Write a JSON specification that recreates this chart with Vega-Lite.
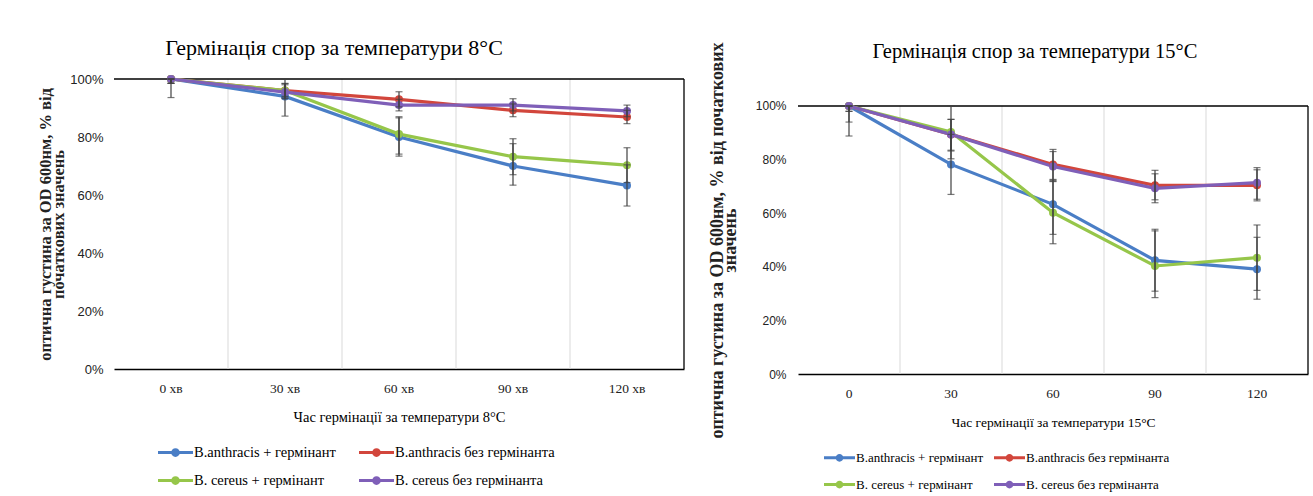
{
  "$schema": "https://vega.github.io/schema/vega-lite/v6.json",
  "padding": {"left": 37, "top": 36, "right": 2, "bottom": 0},
  "background": "white",
  "spacing": 23,
  "config": {
    "view": {"stroke": null},
    "font": "Liberation Serif",
    "axisX": {"grid": false, "ticks": false, "domainColor": "#000", "domainWidth": 1.3, "labelAngle": 0},
    "axisY": {"grid": false, "ticks": false, "domain": false}
  },
  "resolve": {"legend": {"color": "independent"}},
  "datasets": {
    "d8": [
      {"t": "0 хв", "s": "B.anthracis + гермінант", "v": 100, "lo": 93.6, "hi": 100},
      {"t": "30 хв", "s": "B.anthracis + гермінант", "v": 94, "lo": 87.2, "hi": 100},
      {"t": "60 хв", "s": "B.anthracis + гермінант", "v": 80, "lo": 73.4, "hi": 86.6},
      {"t": "90 хв", "s": "B.anthracis + гермінант", "v": 70, "lo": 63.4, "hi": 77.7},
      {"t": "120 хв", "s": "B.anthracis + гермінант", "v": 63.3, "lo": 56.2, "hi": 70.4},
      {"t": "0 хв", "s": "B.anthracis без гермінанта", "v": 100, "lo": 98.5, "hi": 100},
      {"t": "30 хв", "s": "B.anthracis без гермінанта", "v": 96, "lo": 94, "hi": 98},
      {"t": "60 хв", "s": "B.anthracis без гермінанта", "v": 93, "lo": 90.4, "hi": 95.6},
      {"t": "90 хв", "s": "B.anthracis без гермінанта", "v": 89.2, "lo": 87, "hi": 91.4},
      {"t": "120 хв", "s": "B.anthracis без гермінанта", "v": 86.9, "lo": 84.6, "hi": 89.2},
      {"t": "0 хв", "s": "B. cereus + гермінант", "v": 100, "lo": 98.5, "hi": 100},
      {"t": "30 хв", "s": "B. cereus + гермінант", "v": 96, "lo": 93.5, "hi": 98.5},
      {"t": "60 хв", "s": "B. cereus + гермінант", "v": 81, "lo": 74.1, "hi": 87},
      {"t": "90 хв", "s": "B. cereus + гермінант", "v": 73.2, "lo": 67, "hi": 79.4},
      {"t": "120 хв", "s": "B. cereus + гермінант", "v": 70.3, "lo": 64.3, "hi": 76.3},
      {"t": "0 хв", "s": "B. cereus без гермінанта", "v": 100, "lo": 98.5, "hi": 100},
      {"t": "30 хв", "s": "B. cereus без гермінанта", "v": 95.5, "lo": 93.2, "hi": 98.4},
      {"t": "60 хв", "s": "B. cereus без гермінанта", "v": 91, "lo": 89, "hi": 93},
      {"t": "90 хв", "s": "B. cereus без гермінанта", "v": 91, "lo": 89, "hi": 93.2},
      {"t": "120 хв", "s": "B. cereus без гермінанта", "v": 89, "lo": 87, "hi": 91}
    ],
    "d15": [
      {"t": "0", "s": "B.anthracis + гермінант", "v": 100, "lo": 88.8, "hi": 100},
      {"t": "30", "s": "B.anthracis + гермінант", "v": 78.2, "lo": 67, "hi": 89.4},
      {"t": "60", "s": "B.anthracis + гермінант", "v": 63.3, "lo": 52.1, "hi": 72.3},
      {"t": "90", "s": "B.anthracis + гермінант", "v": 42.4, "lo": 30.9, "hi": 54},
      {"t": "120", "s": "B.anthracis + гермінант", "v": 39.1, "lo": 27.9, "hi": 51},
      {"t": "0", "s": "B.anthracis без гермінанта", "v": 100, "lo": 98, "hi": 100},
      {"t": "30", "s": "B.anthracis без гермінанта", "v": 89.4, "lo": 83.5, "hi": 95},
      {"t": "60", "s": "B.anthracis без гермінанта", "v": 78.2, "lo": 72.6, "hi": 83.8},
      {"t": "90", "s": "B.anthracis без гермінанта", "v": 70.4, "lo": 65, "hi": 76},
      {"t": "120", "s": "B.anthracis без гермінанта", "v": 70.4, "lo": 64.6, "hi": 76.2},
      {"t": "0", "s": "B. cereus + гермінант", "v": 100, "lo": 94, "hi": 100},
      {"t": "30", "s": "B. cereus + гермінант", "v": 90.3, "lo": 80.3, "hi": 100},
      {"t": "60", "s": "B. cereus + гермінант", "v": 60.2, "lo": 48.6, "hi": 71.8},
      {"t": "90", "s": "B. cereus + гермінант", "v": 40.3, "lo": 28.5, "hi": 53.4},
      {"t": "120", "s": "B. cereus + гермінант", "v": 43.4, "lo": 31.2, "hi": 55.6},
      {"t": "0", "s": "B. cereus без гермінанта", "v": 100, "lo": 98, "hi": 100},
      {"t": "30", "s": "B. cereus без гермінанта", "v": 89.4, "lo": 83.2, "hi": 95},
      {"t": "60", "s": "B. cereus без гермінанта", "v": 77.4, "lo": 72, "hi": 83},
      {"t": "90", "s": "B. cereus без гермінанта", "v": 69.3, "lo": 63.9, "hi": 74.7},
      {"t": "120", "s": "B. cereus без гермінанта", "v": 71.4, "lo": 65.2, "hi": 77}
    ]
  },
  "hconcat": [
    {
      "width": 570,
      "height": 290,
      "data": {"name": "d8"},
      "title": {"text": "Гермінація спор за температури 8°C", "font": "Liberation Serif", "fontSize": 22, "fontWeight": "normal", "color": "#000", "offset": 13, "dx": -65},
      "resolve": {"axis": {"x": "independent", "y": "independent"}},
      "layer": [
        {
          "transform": [{"filter": "datum.s == 'B.anthracis + гермінант' && datum.t != '0 хв'"}],
          "mark": {"type": "rule", "color": "#d9d9d9", "strokeWidth": 1},
          "encoding": {
            "x": {"field": "t", "type": "ordinal", "sort": ["0 хв", "30 хв", "60 хв", "90 хв", "120 хв"], "bandPosition": 0, "scale": {"type": "band", "paddingInner": 0, "paddingOuter": 0},
              "axis": {"title": "Час гермінації за температури 8°C", "labelAngle": 0, "labelFont": "Liberation Serif", "labelFontSize": 13.5, "labelColor": "#222", "labelPadding": 12, "labelBound": false, "ticks": false, "grid": false, "domainColor": "#000", "domainWidth": 1.3, "titleFont": "Liberation Serif", "titleFontSize": 14.5, "titleFontWeight": "normal", "titleColor": "#000", "titlePadding": 16, "bandPosition": 0.5}},
            "y": {"datum": 0, "type": "quantitative", "scale": {"domain": [0, 100], "nice": false},
              "axis": {"title": ["оптична густина  за OD 600нм, % від", "початкових значень"], "values": [0, 20, 40, 60, 80, 100], "labelExpr": "datum.value + '%'", "grid": false, "domain": false, "ticks": false, "labelPadding": 11, "labelFont": "Liberation Sans", "labelFontSize": 13, "labelColor": "#222", "titleFont": "Liberation Serif", "titleFontWeight": "bold", "titleFontSize": 16.5, "titleLineHeight": 13, "titleColor": "#222", "titlePadding": 3}},
            "y2": {"datum": 100}
          }
        },
        {
          "transform": [{"filter": "datum.s == 'B.anthracis + гермінант' && datum.t == '120 хв'"}],
          "mark": {"type": "rule", "color": "#000", "strokeWidth": 1.3},
          "encoding": {
            "x": {"field": "t", "type": "ordinal", "sort": ["0 хв", "30 хв", "60 хв", "90 хв", "120 хв"], "bandPosition": 1, "axis": null},
            "y": {"datum": 0, "type": "quantitative", "axis": null},
            "y2": {"datum": 100}
          }
        },
        {
          "transform": [{"filter": "datum.s == 'B.anthracis + гермінант' && datum.t == '0 хв'"}],
          "mark": {"type": "rule", "color": "#000", "strokeWidth": 1.3},
          "encoding": {
            "y": {"datum": 100, "type": "quantitative", "axis": null}
          }
        },
        {
          "mark": {"type": "line", "strokeWidth": 3.2, "point": {"filled": true, "size": 64}},
          "encoding": {
            "x": {"field": "t", "type": "ordinal", "sort": ["0 хв", "30 хв", "60 хв", "90 хв", "120 хв"], "axis": null},
            "y": {"field": "v", "type": "quantitative", "axis": null},
            "color": {"field": "s", "type": "nominal",
              "scale": {"domain": ["B.anthracis + гермінант", "B.anthracis без гермінанта", "B. cereus + гермінант", "B. cereus без гермінанта"], "range": ["#4A7EC6", "#D2463C", "#96C64A", "#7F5FB8"]},
              "legend": {"orient": "none", "direction": "horizontal", "legendX": 44, "legendY": 356, "columns": 2, "title": null, "symbolType": "M-1,-0.09 L1,-0.09 L1,0.09 L-1,0.09 Z M0.25,0 A0.25,0.25 0 1,1 -0.25,0 A0.25,0.25 0 1,1 0.25,0 Z", "symbolSize": 1225, "labelFont": "Liberation Serif", "labelFontSize": 14.5, "labelColor": "#000", "columnPadding": 23, "rowPadding": 4, "labelOffset": 1, "padding": 0,
                "encode": {"symbols": {"update": {"fill": {"scale": "color", "field": "value"}, "stroke": {"value": "transparent"}, "strokeWidth": {"value": 0}, "opacity": {"value": 1}}}}}}
          }
        },
        {
          "mark": {"type": "errorbar", "ticks": {"size": 7}, "thickness": 1.2, "color": "#404040"},
          "encoding": {
            "x": {"field": "t", "type": "ordinal", "sort": ["0 хв", "30 хв", "60 хв", "90 хв", "120 хв"], "axis": null},
            "y": {"field": "lo", "type": "quantitative", "axis": null},
            "y2": {"field": "hi"},
            "detail": {"field": "s"}
          }
        }
      ]
    },
    {
      "width": 510,
      "height": 295,
      "data": {"name": "d15"},
      "title": {"text": "Гермінація спор за температури 15°C", "font": "Liberation Serif", "fontSize": 20.5, "fontWeight": "normal", "color": "#000", "offset": -23, "dx": -18},
      "resolve": {"axis": {"x": "independent", "y": "independent"}},
      "layer": [
        {
          "transform": [{"filter": "datum.s == 'B.anthracis + гермінант' && datum.t != '0'"}],
          "mark": {"type": "rule", "color": "#d9d9d9", "strokeWidth": 1},
          "encoding": {
            "x": {"field": "t", "type": "ordinal", "sort": ["0", "30", "60", "90", "120"], "bandPosition": 0, "scale": {"type": "band", "paddingInner": 0, "paddingOuter": 0},
              "axis": {"title": "Час гермінації за температури 15°C", "labelAngle": 0, "labelFont": "Liberation Serif", "labelFontSize": 13.5, "labelColor": "#222", "labelPadding": 12, "ticks": false, "grid": false, "domainColor": "#000", "domainWidth": 1.3, "titleFont": "Liberation Serif", "titleFontSize": 13.5, "titleFontWeight": "normal", "titleColor": "#000", "titlePadding": 16, "bandPosition": 0.5}},
            "y": {"datum": 0, "type": "quantitative", "scale": {"domain": [0, 110.07], "nice": false},
              "axis": {"title": ["оптична густина  за OD 600нм, % від початкових", "значень"], "titleY": 161, "values": [0, 20, 40, 60, 80, 100], "labelExpr": "datum.value + '%'", "grid": false, "domain": false, "ticks": false, "labelPadding": 12, "labelFont": "Liberation Sans", "labelFontSize": 12, "labelColor": "#222", "titleFont": "Liberation Serif", "titleFontWeight": "bold", "titleFontSize": 18, "titleLineHeight": 13, "titleColor": "#222", "titlePadding": 16}},
            "y2": {"datum": 100}
          }
        },
        {
          "transform": [{"filter": "datum.s == 'B.anthracis + гермінант' && datum.t == '120'"}],
          "mark": {"type": "rule", "color": "#000", "strokeWidth": 1.3},
          "encoding": {
            "x": {"field": "t", "type": "ordinal", "sort": ["0", "30", "60", "90", "120"], "bandPosition": 1, "axis": null},
            "y": {"datum": 0, "type": "quantitative", "axis": null},
            "y2": {"datum": 100}
          }
        },
        {
          "transform": [{"filter": "datum.s == 'B.anthracis + гермінант' && datum.t == '0'"}],
          "mark": {"type": "rule", "color": "#000", "strokeWidth": 1.3},
          "encoding": {
            "y": {"datum": 100, "type": "quantitative", "axis": null}
          }
        },
        {
          "mark": {"type": "line", "strokeWidth": 3.2, "point": {"filled": true, "size": 64}},
          "encoding": {
            "x": {"field": "t", "type": "ordinal", "sort": ["0", "30", "60", "90", "120"], "axis": null},
            "y": {"field": "v", "type": "quantitative", "axis": null},
            "color": {"field": "s", "type": "nominal",
              "scale": {"domain": ["B.anthracis + гермінант", "B.anthracis без гермінанта", "B. cereus + гермінант", "B. cereus без гермінанта"], "range": ["#4A7EC6", "#D2463C", "#96C64A", "#7F5FB8"]},
              "legend": {"orient": "none", "direction": "horizontal", "legendX": 26, "legendY": 363, "columns": 2, "title": null, "symbolType": "M-1,-0.09 L1,-0.09 L1,0.09 L-1,0.09 Z M0.25,0 A0.25,0.25 0 1,1 -0.25,0 A0.25,0.25 0 1,1 0.25,0 Z", "symbolSize": 961, "labelFont": "Liberation Serif", "labelFontSize": 13, "labelColor": "#000", "columnPadding": 10, "rowPadding": 4, "labelOffset": 1, "padding": 0,
                "encode": {"symbols": {"update": {"fill": {"scale": "color", "field": "value"}, "stroke": {"value": "transparent"}, "strokeWidth": {"value": 0}, "opacity": {"value": 1}}}}}}
          }
        },
        {
          "mark": {"type": "errorbar", "ticks": {"size": 7}, "thickness": 1.2, "color": "#404040"},
          "encoding": {
            "x": {"field": "t", "type": "ordinal", "sort": ["0", "30", "60", "90", "120"], "axis": null},
            "y": {"field": "lo", "type": "quantitative", "axis": null},
            "y2": {"field": "hi"},
            "detail": {"field": "s"}
          }
        }
      ]
    }
  ]
}
